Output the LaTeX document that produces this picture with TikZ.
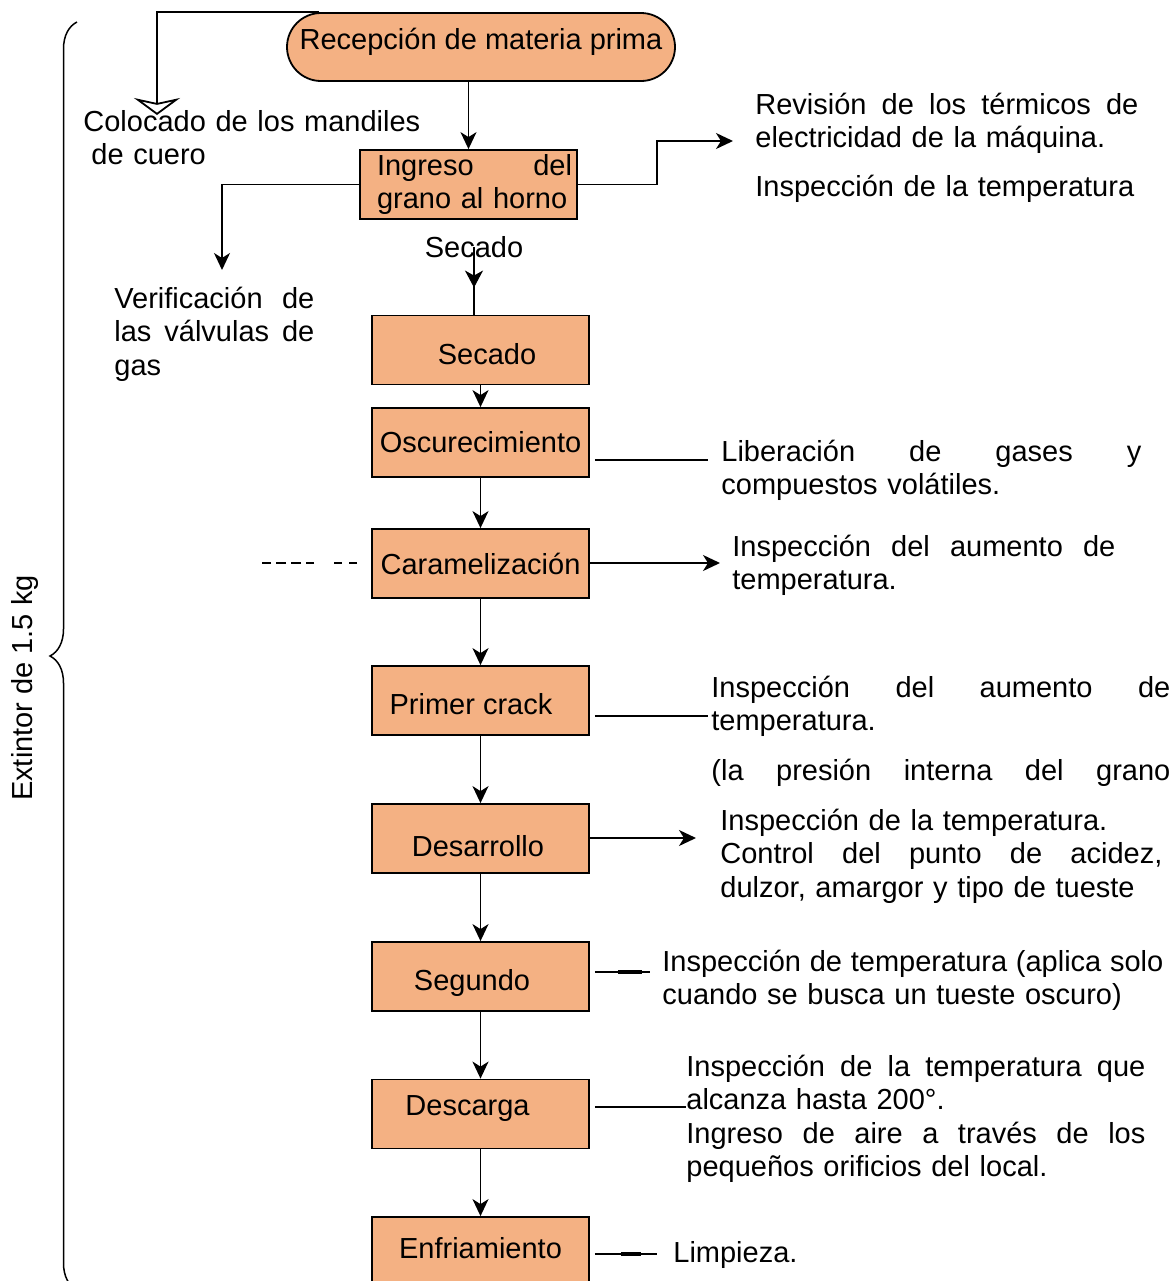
\documentclass[tikz,border=0pt]{standalone}
\usepackage{fontspec}
\setmainfont{Liberation Sans}
\usetikzlibrary{arrows.meta, positioning, calc, decorations.pathreplacing, decorations.markings}
\definecolor{salmon}{RGB}{244,177,131}
\newcommand{\justo}[1]{\leavevmode\hbox to\hsize{\spaceskip=0.278em plus 1fil\relax #1}}
\newcommand{\ajuste}[3]{\hspace*{#1}\raisebox{#2}[\height][\depth]{#3}\hspace*{-#1}}
\tikzset{
  paso/.style={draw, fill=salmon, line width=0.9pt, minimum width=108.5pt, minimum height=34.5pt, inner sep=0pt},
  inicio/.style={paso, rounded corners=17pt, minimum width=194pt, minimum height=34pt},
  flecha/.style={-{Stealth[length=8.5pt,width=8pt,inset=2.5pt]}, line width=0.9pt},
  abierta/.style={-{Stealth[open, length=8.5pt, width=23pt, inset=2.5pt]}, line width=0.9pt},
  linea/.style={line width=0.9pt, shorten <=2.5pt},
  nota/.style={anchor=base west, inner sep=0pt, align=left, text width=#1},
}

\begin{document}
\begin{tikzpicture}[x=0.5pt, y=-0.5pt, every node/.style={font=\fontsize{14.5}{16.8}\selectfont}]
  \useasboundingbox (0,0) rectangle (1174,1281);

  \node[inicio] (recep) at (481,47) {\ajuste{0pt}{2.5pt}{Recepción de materia prima}};
  \node[paso, align=left, text width=103.5pt] (ingreso) at (468.5,184.5) {\justo{\hspace*{6pt}Ingreso del}\\\hspace*{6pt}grano al horno};
  \node (secadolbl) at (474,247) {Secado};
  \node[paso] (secado) at (480.5,350) {\ajuste{3.25pt}{-2pt}{Secado}};
  \node[paso] (oscuro) at (480.5,442.5) {Oscurecimiento};
  \node[paso] (caramel) at (480.5,563.5) {Caramelización};
  \node[paso] (primer) at (480.5,700.5) {\ajuste{-4.75pt}{-1.75pt}{Primer crack}};
  \node[paso] (desarrollo) at (480.5,838.5) {\ajuste{-1.25pt}{-3.75pt}{Desarrollo}};
  \node[paso] (segundo) at (480.5,976.5) {\ajuste{-4.25pt}{-3.25pt}{Segundo}};
  \node[paso] (descarga) at (480.5,1114) {\ajuste{-6.5pt}{2.5pt}{Descarga}};
  \node[paso] (enfria) at (480.5,1251.5) {\ajuste{0pt}{1.75pt}{Enfriamiento}};

  \node[nota=170pt] (colocado) at (83,131) {Colocado de los mandiles\\\hspace*{4pt}de cuero};
  \node[nota=191.5pt] (revision) at (755,114) {\justo{Revisión de los térmicos de}\\electricidad de la máquina.\\[7.5pt]Inspección de la temperatura};
  \node[nota=100pt] (verif) at (114,308) {\justo{Verificación de}\\\justo{las válvulas de}\\gas};
  \node[nota=210pt] (liberacion) at (721,461) {\justo{Liberación de gases y}\\compuestos volátiles.};
  \node[nota=191.5pt] (inspcara) at (732,556) {\justo{Inspección del aumento de}\\temperatura.};
  \node[nota=229.5pt] (insprimer) at (711,697) {\justo{Inspección del aumento de}\\temperatura.\\[8pt]\justo{(la presión interna del grano}};
  \node[nota=221pt] (inspdesa) at (720,830) {Inspección de la temperatura.\\\justo{Control del punto de acidez,}\\dulzor, amargor y tipo de tueste};
  \node[nota=250.5pt] (inspseg) at (662,971) {\justo{Inspección de temperatura (aplica solo}\\cuando se busca un tueste oscuro)};
  \node[nota=229.5pt] (inspdesc) at (686,1076) {\justo{Inspección de la temperatura que}\\alcanza hasta 200°.\\\justo{Ingreso de aire a través de los}\\pequeños orificios del local.};
  \node[nota=60pt] (limpieza) at (673,1262) {Limpieza.};
  \node[rotate=90] (extintor) at (25,688) {Extintor de 1.5 kg};

  \coordinate (colotip) at (157,115);
  \coordinate (revtip) at (733,141);
  \coordinate (veriftip) at (222,270);
  \coordinate (libfin) at (708,460);
  \coordinate (carafin) at (720,563);
  \coordinate (dashfin) at (262,563);
  \coordinate (primfin) at (708,716);
  \coordinate (desafin) at (696,838);
  \coordinate (segfin) at (650,972);
  \coordinate (descfin) at (686,1107);
  \coordinate (limpfin) at (657,1254);

  \draw[decorate, decoration={brace, amplitude=13.5pt}, line width=0.75pt] (77,1290) -- (77,22);

  \draw[abierta] ($(recep.north west)+(33,0)$) -| (colotip);
  \draw[flecha] (ingreso.north |- recep.south) -- (ingreso.north);
  \draw[flecha] (ingreso.east) -- ++(79,0) |- (revtip);
  \draw[flecha] (ingreso.west) -| (veriftip);
  \draw[line width=0.9pt, postaction={decorate}, decoration={markings, mark=at position 0.6 with {\arrow{Stealth[length=8.5pt,width=9pt,inset=2.5pt]}}}] (secadolbl.center) -- (secadolbl.center |- secado.north);
  \draw[flecha] (secado) -- (oscuro);
  \draw[flecha] (oscuro) -- (caramel);
  \draw[flecha] (caramel) -- (primer);
  \draw[flecha] (primer) -- (desarrollo);
  \draw[flecha] (desarrollo) -- (segundo);
  \draw[flecha] (segundo) -- (descarga);
  \draw[flecha] (descarga) -- (enfria);

  \draw[linea] (oscuro.east |- libfin) -- (libfin);
  \draw[flecha] (caramel.east |- carafin) -- (carafin);
  \draw[line width=0.9pt, shorten <=7pt, dash pattern=on 4pt off 3.5pt on 4pt off 10pt on 4pt off 2.5pt on 5pt off 2.5pt on 5pt off 2.5pt on 5pt off 100pt] (caramel.west |- dashfin) -- (dashfin);
  \draw[linea] (primer.east |- primfin) -- (primfin);
  \draw[flecha] (desarrollo.east |- desafin) -- (desafin);
  \draw[linea] (segundo.east |- segfin) -- (segfin);
  \draw[line width=1.8pt] ($(segundo.east |- segfin)+(28,0)$) -- ++(24,0);
  \draw[linea] (descarga.east |- descfin) -- (descfin);
  \draw[linea] (enfria.east |- limpfin) -- (limpfin);
  \draw[line width=1.8pt] ($(enfria.east |- limpfin)+(31,0)$) -- ++(20,0);
\end{tikzpicture}
\end{document}
